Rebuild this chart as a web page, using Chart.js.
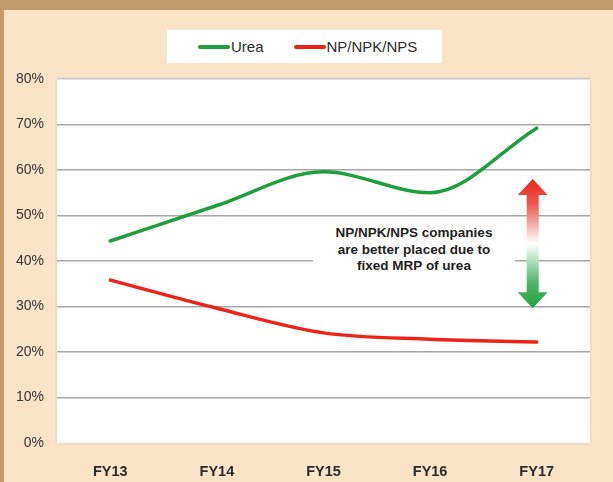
<!DOCTYPE html>
<html>
<head>
<meta charset="utf-8">
<script src="https://cdn.jsdelivr.net/npm/chart.js@4"></script>
<style>
    html, body { margin: 0; padding: 0; }
    body { width: 613px; height: 482px; background: #fbe3c8; position: relative; overflow: hidden; font-family: "Liberation Sans", Arial, sans-serif; }
    #topBar { position: absolute; left: 0; top: 0; width: 613px; height: 10px; background: #c39a6c; }
    #leftBar { position: absolute; left: 0; top: 0; width: 4px; height: 482px; background: #c39a6c; }
    #wrap { position: absolute; left: 0; top: 0; width: 613px; height: 482px; }
    #legend { position: absolute; left: 167px; top: 30px; width: 275px; height: 33px; background: #fff; display: flex; align-items: center; font-size: 15px; color: #2b2b2b; }
    .item { display: flex; align-items: center; }
    .swatch { width: 32px; height: 4px; border-radius: 2px; margin-right: 1px; }
    #note { position: absolute; left: 313px; top: 223px; width: 202px; height: 52px; background: #fff; text-align: center; font-weight: bold; font-size: 13.5px; line-height: 16.5px; color: #222; padding-top: 2px; box-sizing: border-box; }
</style>
</head>
<body>
<div id="topBar"></div>
<div id="leftBar"></div>
<div id="wrap"><canvas id="chart" width="613" height="482"></canvas></div>
<div id="legend"></div>
<div id="note">NP/NPK/NPS companies<br>are better placed due to<br>fixed MRP of urea</div>
<script>
// datos
const years = ['FY13', 'FY14', 'FY15', 'FY16', 'FY17'];
const urea = [44.4, 52.2, 59.6, 55.0, 69.2];
const npk = [35.8, 29.6, 24.2, 22.8, 22.2];
const seriesNames = ['Urea', 'NP/NPK/NPS'];
const seriesColors = ['#1e9e3e', '#ee2219'];
const yTicks = [0, 10, 20, 30, 40, 50, 60, 70, 80];

// leyenda en html
const legendBox = document.getElementById('legend');
seriesNames.forEach((name, i) => {
    const item = document.createElement('div');
    item.className = 'item';
    item.style.marginLeft = i === 0 ? '31px' : '30px';
    item.innerHTML = '<span class="swatch" style="background:' + seriesColors[i] + '"></span>' + name;
    legendBox.appendChild(item);
});

// fondo blanco del area y flecha
const plotBg = {
    id: 'plotBg',
    beforeDraw(chart) {
        const a = chart.chartArea;
        const c = chart.ctx;
        c.save();
        c.fillStyle = '#ffffff';
        c.shadowColor = 'rgba(0,0,0,0.12)';
        c.shadowBlur = 3;
        c.fillRect(a.left, a.top, a.right - a.left, a.bottom - a.top);
        c.restore();
    },
    afterDraw(chart) {
        const x = chart.scales.x.getPixelForValue(4) - 4;
        const top = chart.scales.y.getPixelForValue(58);
        const bottom = chart.scales.y.getPixelForValue(29.6);
        const c = chart.ctx;
        const hw = 15, sw = 6, hh = 16;
        const g = c.createLinearGradient(0, top, 0, bottom);
        g.addColorStop(0, '#e8261e');
        g.addColorStop(0.2, '#ee5a50');
        g.addColorStop(0.5, '#ffffff');
        g.addColorStop(0.8, '#4fb56a');
        g.addColorStop(1, '#22a145');
        c.save();
        c.fillStyle = g;
        c.beginPath();
        c.moveTo(x, top);
        c.lineTo(x + hw, top + hh);
        c.lineTo(x + sw, top + hh);
        c.lineTo(x + sw, bottom - hh);
        c.lineTo(x + hw, bottom - hh);
        c.lineTo(x, bottom);
        c.lineTo(x - hw, bottom - hh);
        c.lineTo(x - sw, bottom - hh);
        c.lineTo(x - sw, top + hh);
        c.lineTo(x - hw, top + hh);
        c.closePath();
        c.fill();
        c.restore();
    }
};

new Chart(document.getElementById('chart').getContext('2d'), {
    type: 'line',
    data: {
        labels: years,
        datasets: [
            { label: seriesNames[0], data: urea, borderColor: seriesColors[0], backgroundColor: seriesColors[0] },
            { label: seriesNames[1], data: npk, borderColor: seriesColors[1], backgroundColor: seriesColors[1] }
        ]
    },
    options: {
        responsive: false,
        animation: false,
        layout: { padding: { top: 79, right: 23, bottom: 0, left: 0 } },
        elements: {
            line: { borderWidth: 3.5, cubicInterpolationMode: 'monotone', borderCapStyle: 'round' },
            point: { radius: 0 }
        },
        scales: {
            x: {
                offset: true,
                grid: { display: false },
                border: { display: false },
                ticks: { color: '#2b2b2b', padding: 12, font: { family: 'Liberation Sans', size: 14.5, weight: 'bold' } },
                afterFit(scale) { scale.height = 39; }
            },
            y: {
                min: 0,
                max: 80,
                afterBuildTicks(scale) { scale.ticks = yTicks.map(v => ({ value: v })); },
                grid: {
                    drawTicks: false,
                    lineWidth: 1.5,
                    color: ctx => ctx.tick.value === 0 ? 'rgba(0,0,0,0)' : (ctx.tick.value === 80 ? '#c8c8c8' : '#a6a6a6')
                },
                border: { display: false },
                ticks: {
                    color: '#333',
                    padding: 13,
                    font: { family: 'Liberation Sans', size: 14 },
                    callback: v => v + '%'
                },
                afterFit(scale) { scale.width = 57; }
            }
        },
        plugins: {
            legend: { display: false },
            tooltip: { enabled: false }
        }
    },
    plugins: [plotBg]
});
</script>
</body>
</html>
